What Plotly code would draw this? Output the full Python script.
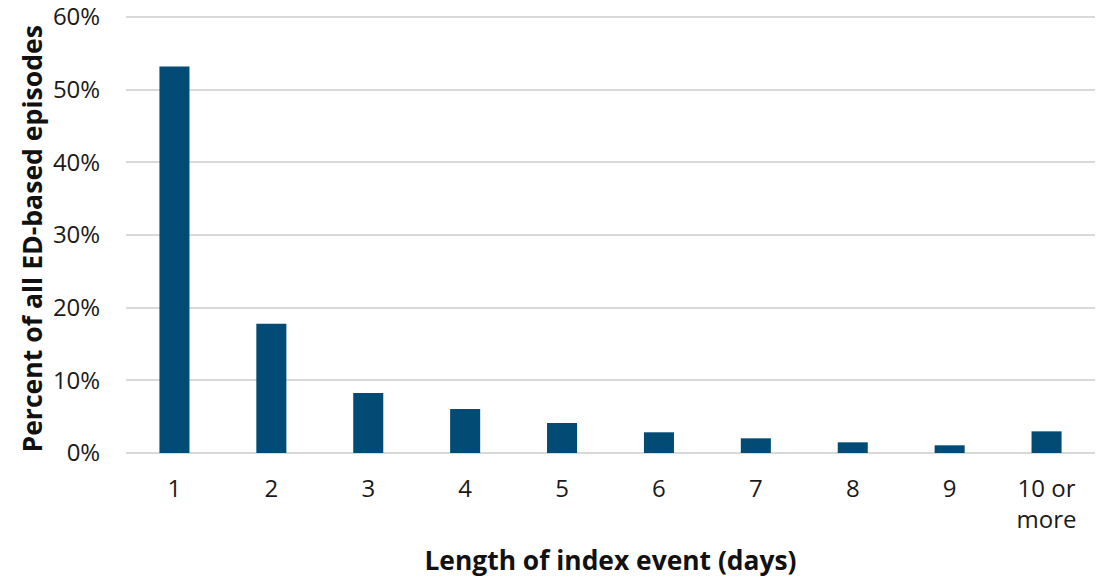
import plotly.graph_objects as go

categories = ["1", "2", "3", "4", "5", "6", "7", "8", "9", "10 or<br>more"]
values = [53.2, 17.8, 8.25, 6.05, 4.13, 2.85, 2.02, 1.47, 1.06, 2.98]
y_ticks = [0, 10, 20, 30, 40, 50, 60]
y_tick_labels = ["0%", "10%", "20%", "30%", "40%", "50%", "60%"]

fig = go.Figure(go.Bar(
    x=categories, y=values,
    marker=dict(color="#024B75", line=dict(width=0)),
    hoverinfo="skip",
))

font_family = "Open Sans"
fig.update_layout(
    width=1101, height=578,
    margin=dict(l=126, r=6, t=16, b=125),
    paper_bgcolor="white", plot_bgcolor="white",
    bargap=0.69,
    showlegend=False,
    font=dict(family=font_family, size=24, color="#1a1a1a"),
    annotations=[dict(
        text="<b>Percent of all ED-based episodes</b>",
        xref="paper", yref="paper", x=-0.098, y=0.5, yshift=-5,
        xanchor="center", yanchor="middle", textangle=-90, showarrow=False,
        font=dict(size=26.6, color="#111111", family=font_family),
    )],
)
fig.update_xaxes(
    automargin=False,
    showgrid=False, showline=False, zeroline=False,
    tickfont=dict(size=24, color="#1a1a1a"),
    ticks="outside", ticklen=14, tickcolor="rgba(0,0,0,0)",
    title=dict(text="<b>Length of index event (days)</b>", font=dict(size=26.4, color="#111111"), standoff=23),
)
fig.update_yaxes(
    automargin=False,
    range=[0, 60.14], tickvals=y_ticks, ticktext=y_tick_labels,
    ticklabeloverflow="allow",
    showgrid=True, gridcolor="#D9D9D9", gridwidth=2,
    zeroline=True, zerolinecolor="#D9D9D9", zerolinewidth=2,
    showline=False,
    tickfont=dict(size=24, color="#1a1a1a"),
    ticks="outside", ticklen=20, tickcolor="rgba(0,0,0,0)",
)

fig.write_html(
    "out.html",
    config={"displayModeBar": False},
    post_script="document.body.style.margin='0';document.body.style.overflow='hidden';",
)
